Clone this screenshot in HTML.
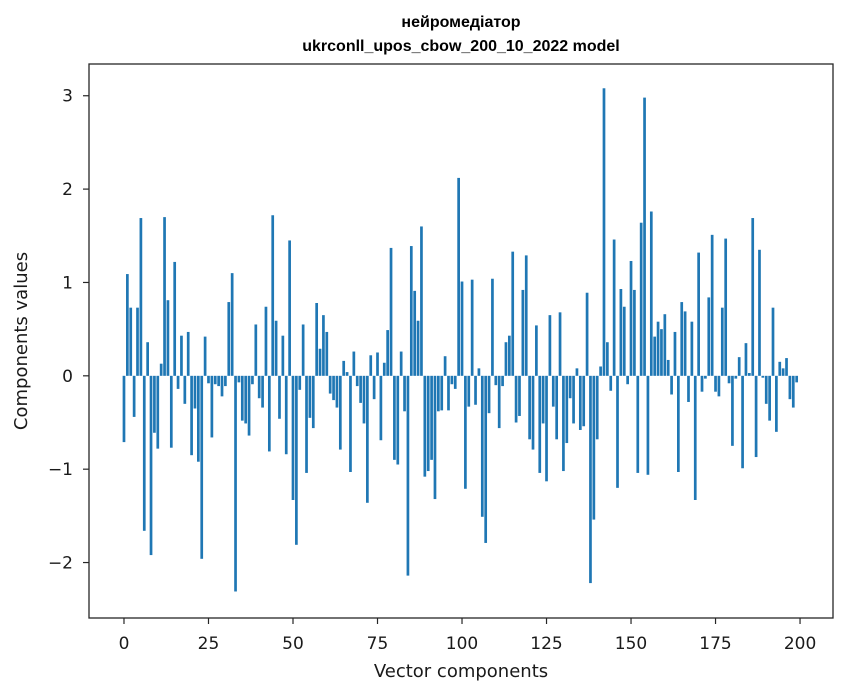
<!DOCTYPE html>
<html><head><meta charset="utf-8"><style>
html,body{margin:0;padding:0;background:#fff;}
svg{display:block;font-family:"DejaVu Sans","Liberation Sans",sans-serif;}
</style></head><body>
<svg id="chart" width="847" height="696" viewBox="0 0 847 696" xmlns="http://www.w3.org/2000/svg">
<rect x="0" y="0" width="847" height="696" fill="#fff"/>
<text x="461" y="27" text-anchor="middle" font-family="Liberation Sans, sans-serif" font-weight="bold" font-size="16">нейромедіатор</text>
<text x="461" y="51" text-anchor="middle" font-family="Liberation Sans, sans-serif" font-weight="bold" font-size="16">ukrconll_upos_cbow_200_10_2022 model</text>
<g id="bars"></g>
<g id="xticks"></g>
<g id="yticks"></g>
<rect x="89" y="64" width="744" height="554" fill="none" stroke="#262626" stroke-width="1.3"/>
<text x="461" y="677" text-anchor="middle" font-size="18" fill="#1a1a1a">Vector components</text>
<text transform="translate(27,341) rotate(-90)" text-anchor="middle" font-size="18" fill="#1a1a1a">Components values</text>
</svg>
<script>
const values = [
-0.71,1.09,0.73,-0.44,0.73,1.69,-1.66,0.36,-1.92,-0.61,
-0.78,0.13,1.70,0.81,-0.77,1.22,-0.14,0.43,-0.30,0.47,
-0.85,-0.35,-0.92,-1.96,0.42,-0.08,-0.66,-0.09,-0.11,-0.22,
-0.11,0.79,1.10,-2.31,-0.07,-0.48,-0.51,-0.64,-0.09,0.55,
-0.24,-0.34,0.74,-0.81,1.72,0.59,-0.46,0.43,-0.84,1.45,
-1.33,-1.81,-0.15,0.55,-1.04,-0.45,-0.56,0.78,0.29,0.65,
0.47,-0.19,-0.26,-0.34,-0.79,0.16,0.04,-1.03,0.26,-0.11,
-0.29,-0.51,-1.36,0.22,-0.25,0.25,-0.69,0.14,0.49,1.37,
-0.90,-0.95,0.26,-0.38,-2.14,1.39,0.91,0.59,1.60,-1.08,
-1.02,-0.90,-1.32,-0.38,-0.37,0.21,-0.37,-0.09,-0.14,2.12,
1.01,-1.21,-0.33,1.03,-0.31,0.08,-1.51,-1.79,-0.40,1.04,
-0.10,-0.56,-0.11,0.36,0.43,1.33,-0.50,-0.43,0.92,1.29,
-0.68,-0.79,0.54,-1.04,-0.51,-1.13,0.65,-0.33,-0.68,0.68,
-1.02,-0.72,-0.24,-0.51,0.08,-0.58,-0.54,0.89,-2.22,-1.54,
-0.68,0.10,3.08,0.36,-0.16,1.46,-1.20,0.93,0.74,-0.09,
1.23,0.92,-1.04,1.64,2.98,-1.06,1.76,0.42,0.58,0.50,
0.66,0.17,-0.20,0.47,-1.03,0.79,0.69,-0.28,0.58,-1.33,
1.32,-0.17,-0.03,0.84,1.51,-0.17,-0.22,0.73,1.47,-0.08,
-0.75,-0.03,0.20,-0.99,0.35,0.03,1.69,-0.87,1.35,-0.02,
-0.30,-0.48,0.73,-0.60,0.15,0.08,0.19,-0.25,-0.34,-0.07
];
const xTickValues = [0,25,50,75,100,125,150,175,200];
const yTickValues = [-2,-1,0,1,2,3];
const yTickLabels = ["\u22122","\u22121","0","1","2","3"];

const NS = "http://www.w3.org/2000/svg";
const X0 = 89, X1 = 833, Y0 = 64, Y1 = 618;
const xMin = -10.35, xMax = 209.75, yMin = -2.594, yMax = 3.34;
function xs(v){ return X0 + (v - xMin) / (xMax - xMin) * (X1 - X0); }
function ys(v){ return Y1 - (v - yMin) / (yMax - yMin) * (Y1 - Y0); }

const barsG = document.getElementById('bars');
values.forEach((v, i) => {
  const r = document.createElementNS(NS, 'rect');
  const xl = xs(i - 0.4), xr = xs(i + 0.4);
  const ya = ys(Math.max(v, 0)), yb = ys(Math.min(v, 0));
  r.setAttribute('x', xl);
  r.setAttribute('width', xr - xl);
  r.setAttribute('y', ya);
  r.setAttribute('height', Math.max(yb - ya, 0));
  r.setAttribute('fill', '#1f77b4');
  
  
  barsG.appendChild(r);
});

const xg = document.getElementById('xticks');
xTickValues.forEach(t => {
  const x = xs(t);
  const l = document.createElementNS(NS, 'line');
  l.setAttribute('x1', x); l.setAttribute('x2', x);
  l.setAttribute('y1', Y1); l.setAttribute('y2', Y1 + 6);
  l.setAttribute('stroke', '#262626'); l.setAttribute('stroke-width', '1.2');
  
  
  xg.appendChild(l);
  const tx = document.createElementNS(NS, 'text');
  tx.setAttribute('x', x); tx.setAttribute('y', Y1 + 31);
  tx.setAttribute('text-anchor', 'middle'); tx.setAttribute('font-size', '17');
  tx.setAttribute('fill', '#1a1a1a');
  tx.textContent = String(t);
  
  
  xg.appendChild(tx);
});

const yg = document.getElementById('yticks');
yTickValues.forEach((t, k) => {
  const y = ys(t);
  const l = document.createElementNS(NS, 'line');
  l.setAttribute('x1', X0 - 6); l.setAttribute('x2', X0);
  l.setAttribute('y1', y); l.setAttribute('y2', y);
  l.setAttribute('stroke', '#262626'); l.setAttribute('stroke-width', '1.2');
  
  
  yg.appendChild(l);
  const tx = document.createElementNS(NS, 'text');
  tx.setAttribute('x', X0 - 16); tx.setAttribute('y', y + 6);
  tx.setAttribute('text-anchor', 'end'); tx.setAttribute('font-size', '17');
  tx.setAttribute('fill', '#1a1a1a');
  tx.textContent = yTickLabels[k];
  
  
  yg.appendChild(tx);
});
</script>
</body></html>
